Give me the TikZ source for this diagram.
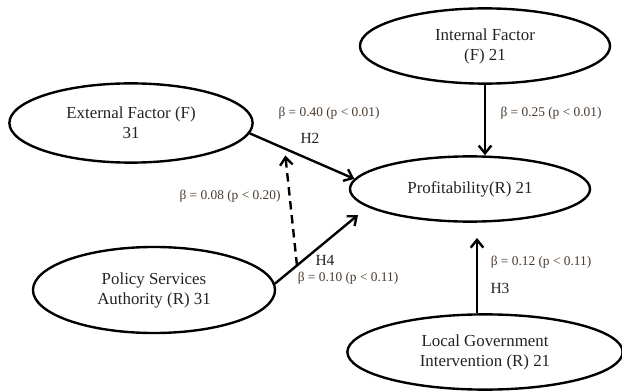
\documentclass[tikz,border=0pt]{standalone}
\usepackage{fontspec}
\setmainfont{Liberation Serif}
\usetikzlibrary{shapes.geometric,arrows.meta}
\definecolor{betabrown}{RGB}{72,58,46}
\definecolor{textgray}{RGB}{35,35,35}

\tikzset{
  factor/.style={draw, ellipse, line width=1.7pt, text=textgray, align=center,
    font=\fontsize{12}{14.2}\selectfont, inner sep=0pt},
  link/.style={line width=1.7pt, -{Straight Barb[length=5.5pt,width=9pt]}},
  beta/.style={text=betabrown, font=\fontsize{9.5}{11}\selectfont},
  hyp/.style={text=textgray, font=\fontsize{11}{13}\selectfont}
}

\begin{document}
\begin{tikzpicture}[x=0.025cm, y=-0.025cm]
\useasboundingbox (0,0) rectangle (622,392);

% Draw the constructs
\node[factor, minimum width=6.08cm, minimum height=1.98cm] (ext) at (131,123) {External Factor (F)\\31};
\node[factor, minimum width=6.25cm, minimum height=1.88cm] (int) at (485,46) {Internal Factor\\(F) 21};
\node[factor, minimum width=6.0cm, minimum height=1.63cm] (prof) at (470,189) {Profitability(R) 21};
\node[factor, minimum width=6.05cm, minimum height=2.15cm] (pol) at (154,290) {Policy Services\\Authority (R) 31};
\node[factor, minimum width=6.88cm, minimum height=1.88cm] (loc) at (485,352) {Local Government\\Intervention (R) 21};

% Free ends of the short arrows
\coordinate (polend) at (358,215);
\coordinate (locend) at (477,238);

% Add the paths
\draw[link] (ext.-5) -- (prof.175);
\draw[link] (int.south) -- (int.south |- prof.north);
\draw[link] (pol.3) -- (polend);
\draw[link] (locend |- loc.north) -- (locend);

% Moderating path
\path (pol.3) -- coordinate[pos=0.265] (modlow) (polend);
\path (ext.-5) -- coordinate[pos=0.333] (modhigh) (prof.175);
\draw[link, dash pattern=on 6pt off 4pt, shorten >=5pt] (modlow) -- (modhigh);

% Coefficients and hypotheses
\node[beta] (b1) at (329,113) {β = 0.40 (p < 0.01)};
\node[hyp] (h2) at (310,138) {H2};
\node[beta] (b2) at (551,113) {β = 0.25 (p < 0.01)};
\node[beta] (b3) at (230,196) {β = 0.08 (p < 0.20)};
\node[hyp] (h4) at (325,260) {H4};
\node[beta] (b4) at (348,278) {β = 0.10 (p < 0.11)};
\node[beta] (b5) at (541,262) {β = 0.12 (p < 0.11)};
\node[hyp] (h3) at (500,288) {H3};
\end{tikzpicture}
\end{document}
